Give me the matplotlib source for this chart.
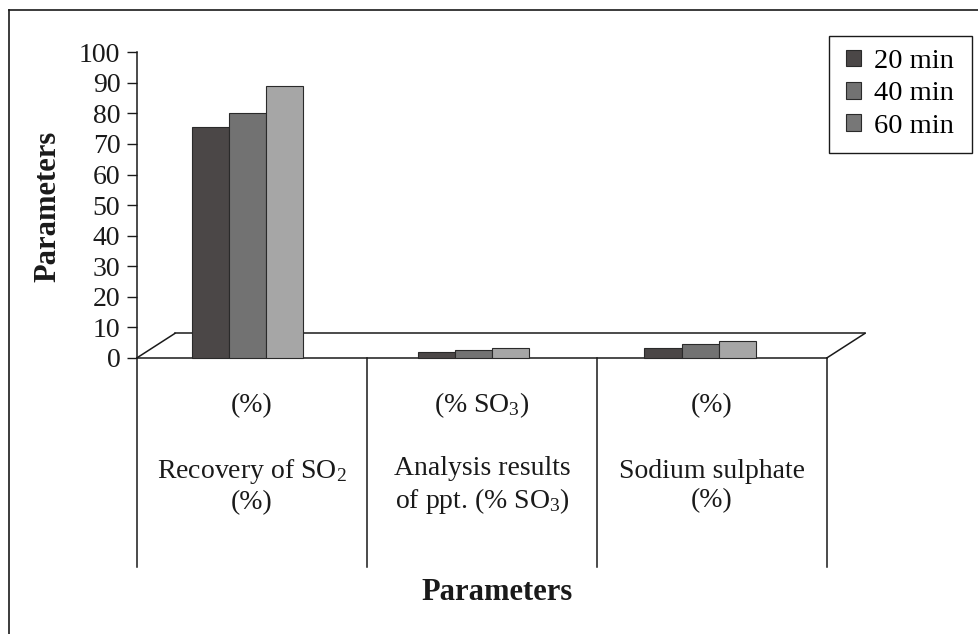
import numpy as np
import matplotlib
matplotlib.use("Agg")
import matplotlib.pyplot as plt
from matplotlib.patches import Patch, Rectangle
from matplotlib.lines import Line2D

plt.rcParams["font.family"] = ["Liberation Serif", "DejaVu Serif"]
plt.rcParams["mathtext.fontset"] = "custom"
plt.rcParams["mathtext.rm"] = "Liberation Serif"
plt.rcParams["mathtext.it"] = "Liberation Serif:italic"
plt.rcParams["mathtext.bf"] = "Liberation Serif:bold"

# values per heating time, for each parameter group
series = ["20 min", "40 min", "60 min"]
vals_20 = [75.5, 2.0, 3.3]
vals_40 = [80.0, 2.7, 4.5]
vals_60 = [89.0, 3.1, 5.6]

top_labels = ["(%)", "(% SO$_3$)", "(%)"]
main_labels = ["Recovery of SO$_2$\n(%)",
               "Analysis results\nof ppt. (% SO$_3$)",
               "Sodium sulphate\n(%)"]

bar_colors = ["#4b4747", "#727272", "#a6a6a6"]
legend_colors = ["#4b4747", "#727272", "#777777"]
edge = "#2a2a2a"
ink = "#1a1a1a"

W, H = 979, 634
fig = plt.figure(figsize=(W / 100, H / 100), dpi=100)

# axes in pixel terms: x from 137 to 867, value 100 at y=52, ylim bottom -70
ax = fig.add_axes([137 / W, 1 - 571.7 / H, (867 - 137) / W, (571.7 - 52.3) / H])
ax.set_xlim(-0.5, 2.674)
ax.set_ylim(-70, 100)
ax.patch.set_visible(False)

for s in ["top", "right", "bottom"]:
    ax.spines[s].set_visible(False)
ax.spines["left"].set_bounds(0, 100)
ax.spines["left"].set_linewidth(1.1)
ax.spines["left"].set_color(ink)
ax.set_yticks(np.arange(0, 101, 10))
ax.set_xticks([])
ax.tick_params(axis="y", direction="out", length=7, width=1.0, pad=5,
               labelsize=20, colors=ink)

# floor of the pseudo-3D plot
floor_dx, floor_dy = 0.165, 8.0
line_kw = dict(color=ink, lw=1.1, clip_on=False, zorder=1)
ax.plot([-0.5, 2.5], [0, 0], **line_kw)
ax.plot([-0.5, -0.5 + floor_dx], [0, floor_dy], **line_kw)
ax.plot([-0.5 + floor_dx, 2.5 + floor_dx], [floor_dy, floor_dy], **line_kw)
ax.plot([2.5, 2.5 + floor_dx], [0, floor_dy], **line_kw)

# dividers between category labels
for xd in [-0.5, 0.5, 1.5, 2.5]:
    ax.plot([xd, xd], [0, -68.6], **line_kw)

# bars
group_x = np.arange(3) * 0.984 - 0.02
bw = 0.161
for k, vals in enumerate([vals_20, vals_40, vals_60]):
    ax.bar(group_x + (k - 1) * bw, vals, width=bw, color=bar_colors[k],
           edgecolor=edge, linewidth=0.8, zorder=3, clip_on=False)

# category labels
cat_x = np.arange(3)
for i in range(3):
    ax.text(cat_x[i], -15.5, top_labels[i], ha="center", va="center",
            fontsize=20, color=ink)
    ax.text(cat_x[i], -42.0, main_labels[i], ha="center", va="center",
            fontsize=20, color=ink, linespacing=1.2)

fig.text(497 / W, 1 - 592 / H, "Parameters", ha="center", va="center",
         fontsize=22, fontweight="bold", color=ink)
fig.text(48 / W, 1 - 206 / H, "Parameters", ha="center", va="center",
         rotation=90, fontsize=22, fontweight="bold", color=ink)

# legend entries without their own frame; the box is drawn separately
handles = [Patch(facecolor=c, edgecolor=edge, linewidth=0.8) for c in legend_colors]
leg = fig.legend(handles, series, loc="upper left",
                 bbox_to_anchor=(846 / W, 1 - 49 / H), borderaxespad=0,
                 fontsize=20.5, frameon=False, borderpad=0,
                 handlelength=0.52, handleheight=0.52, handletextpad=0.45,
                 labelspacing=0.26)
fig.add_artist(Rectangle((829 / W, 1 - 153 / H), (972 - 829) / W, (153 - 36) / H,
                         transform=fig.transFigure, fill=False,
                         edgecolor=ink, linewidth=1.0))

# outer frame: only top and left edges remain visible
fig.add_artist(Line2D([9 / W, 9 / W], [0, 1 - 10 / H], color=ink, lw=1.2))
fig.add_artist(Line2D([9 / W, 1], [1 - 10 / H, 1 - 10 / H], color=ink, lw=1.2))

fig.savefig("out.png", dpi=100)
